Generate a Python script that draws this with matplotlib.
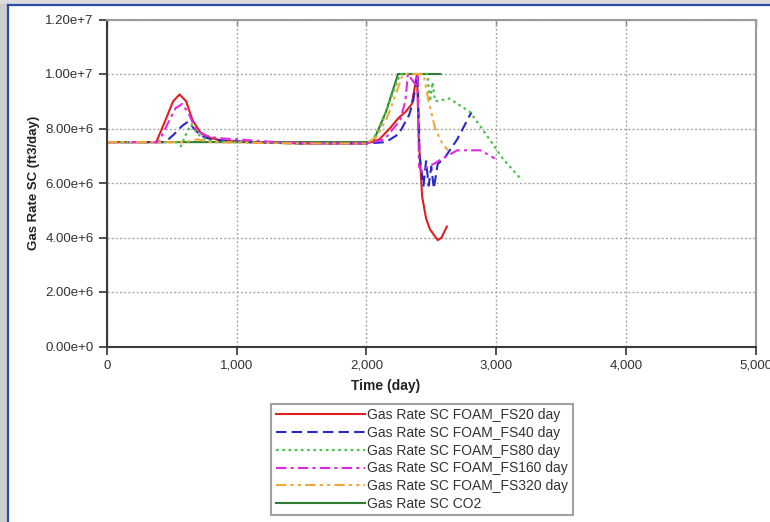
import matplotlib
matplotlib.use("Agg")
import matplotlib.pyplot as plt
from matplotlib.lines import Line2D
from matplotlib.patches import Rectangle
from matplotlib.ticker import FuncFormatter

plt.rcParams['font.family'] = ['Liberation Sans', 'DejaVu Sans']

# Time (day) and gas rate (1e6 ft3/day) for each run
t_fs20 = [0, 380, 450, 510, 560, 610, 660, 720, 800, 900, 1100, 1500, 2000, 2100, 2180,
          2250, 2300, 2350, 2390, 2405, 2430, 2460, 2490, 2520, 2550, 2580, 2620]
q_fs20 = [7.5, 7.5, 8.3, 9.0, 9.25, 9.0, 8.3, 7.85, 7.65, 7.55, 7.5, 7.45, 7.45, 7.6, 8.0,
          8.4, 8.6, 8.9, 10.0, 7.5, 5.5, 4.7, 4.3, 4.1, 3.9, 4.0, 4.4]

t_fs40 = [0, 450, 520, 580, 625, 670, 720, 800, 900, 1100, 1500, 2000, 2150, 2250, 2330,
          2360, 2395, 2410, 2440, 2460, 2480, 2500, 2520, 2550, 2600, 2700, 2810]
q_fs40 = [7.5, 7.5, 7.8, 8.1, 8.25, 8.0, 7.75, 7.6, 7.55, 7.5, 7.45, 7.45, 7.5, 7.8, 8.5,
          9.0, 10.0, 7.0, 5.9, 6.8, 5.9, 6.6, 5.8, 6.7, 6.9, 7.6, 8.6]

t_fs80 = [0, 540, 570, 610, 650, 700, 760, 850, 1100, 1500, 2000, 2050, 2120, 2180, 2260,
          2330, 2400, 2470, 2490, 2510, 2530, 2640, 2800, 2950, 3050, 3200]
q_fs80 = [7.5, 7.5, 7.35, 7.8, 8.15, 7.8, 7.6, 7.5, 7.5, 7.45, 7.45, 7.6, 8.2, 9.0, 10.0,
          10.0, 10.0, 10.0, 9.0, 9.7, 9.0, 9.1, 8.6, 7.6, 6.9, 6.1]

t_fs160 = [0, 400, 470, 530, 580, 630, 680, 750, 850, 1000, 1300, 1600, 2000, 2140, 2260,
           2300, 2320, 2380, 2395, 2405, 2430, 2470, 2520, 2570, 2700, 2880, 2990]
q_fs160 = [7.5, 7.5, 8.2, 8.75, 8.9, 8.55, 8.0, 7.75, 7.65, 7.6, 7.5, 7.45, 7.45, 7.6, 8.3,
           9.0, 10.0, 9.6, 10.0, 6.6, 6.4, 6.6, 6.7, 6.85, 7.2, 7.2, 6.9]

t_fs320 = [0, 600, 700, 800, 1500, 2000, 2080, 2160, 2230, 2280, 2440, 2480, 2530, 2590, 2630]
q_fs320 = [7.5, 7.5, 7.6, 7.5, 7.45, 7.45, 7.7, 8.4, 9.3, 10.0, 10.0, 9.0, 8.0, 7.4, 7.2]

t_co2 = [0, 0, 2050, 2150, 2244, 2570]
q_co2 = [0, 7.5, 7.5, 8.6, 10.0, 10.0]

labels = ["Gas Rate SC FOAM_FS20 day", "Gas Rate SC FOAM_FS40 day",
          "Gas Rate SC FOAM_FS80 day", "Gas Rate SC FOAM_FS160 day",
          "Gas Rate SC FOAM_FS320 day", "Gas Rate SC CO2"]

x_ticks = [0, 1000, 2000, 3000, 4000, 5000]
y_ticks = [0, 2e6, 4e6, 6e6, 8e6, 1e7, 1.2e7]
y_tick_labels = ["0.00e+0", "2.00e+6", "4.00e+6", "6.00e+6", "8.00e+6", "1.00e+7", "1.20e+7"]

W, H = 770, 522
fig = plt.figure(figsize=(W / 100, H / 100), dpi=100)
fig.patch.set_facecolor("white")

# window frame around the chart
fig.add_artist(Rectangle((0, 0), 7 / W, 1, transform=fig.transFigure,
                         facecolor="#cfcfcf", edgecolor="none", zorder=0))
fig.add_artist(Rectangle((0, 1 - 4 / H), 1, 4 / H, transform=fig.transFigure,
                         facecolor="#dcdcdc", edgecolor="none", zorder=0))
fig.add_artist(Line2D([8 / W, 8 / W], [0, 1 - 5 / H], transform=fig.transFigure,
                      color="#2a4aa8", lw=1.6))
fig.add_artist(Line2D([8 / W, 1], [1 - 5 / H, 1 - 5 / H], transform=fig.transFigure,
                      color="#2a4aa8", lw=1.6))

ax = fig.add_axes([107 / W, 1 - 346.5 / H, (755.5 - 107) / W, (346.5 - 19.5) / H])

def m(q):
    return [v * 1e6 for v in q]

series = [
    (t_co2, q_co2, dict(color="#2e7d32", ls="-", lw=1.5)),
    (t_fs20, q_fs20, dict(color="#e02020", ls="-", lw=1.5)),
    (t_fs40, q_fs40, dict(color="#2828c8", ls=(0, (5, 2.5)), lw=1.5)),
    (t_fs80, q_fs80, dict(color="#4cc24c", ls=(0, (1.2, 1.6)), lw=1.6)),
    (t_fs160, q_fs160, dict(color="#e028e0", ls=(0, (5, 2, 1.5, 2)), lw=1.5)),
    (t_fs320, q_fs320, dict(color="#f2a838", ls=(0, (5, 2, 1.5, 2, 1.5, 2)), lw=1.5)),
]
handles = {}
for (t, q, st), lab in zip(series, [labels[5]] + labels[:5]):
    h, = ax.plot(t, m(q), **st, label=lab)
    handles[lab] = h

ax.set_xlim(0, 5000)
ax.set_ylim(0, 1.2e7)
ax.set_xticks(x_ticks)
ax.xaxis.set_major_formatter(FuncFormatter(lambda v, p: f"{int(v):,}"))
ax.set_yticks(y_ticks)
ax.set_yticklabels(y_tick_labels)
ax.grid(True, color="#a8a8a8", ls=(0, (1.5, 1.5)), lw=1.0)
ax.tick_params(axis="both", labelsize=9.5, colors="#333333", length=6, width=1.2,
               direction="out")

# small inward ticks along the top edge
top = ax.secondary_xaxis("top")
top.set_xticks(x_ticks)
top.tick_params(direction="in", length=5, width=1.0, colors="#777777", labeltop=False)
top.spines["top"].set_visible(False)

for s in ["top", "right"]:
    ax.spines[s].set_color("#9a9a9a")
    ax.spines[s].set_linewidth(1.5)
for s in ["left", "bottom"]:
    ax.spines[s].set_color("#3a3a3a")
    ax.spines[s].set_linewidth(1.5)

ax.set_xlabel("Time (day)", fontsize=10, fontweight="bold", color="#222222")
ax.xaxis.set_label_coords(0.429, -0.1)
ax.set_ylabel("Gas Rate SC (ft3/day)", fontsize=9.5, fontweight="bold", color="#222222")
ax.yaxis.set_label_coords(-0.104, 0.5)

leg = fig.legend([handles[l] for l in labels], labels, loc="upper center",
                 bbox_to_anchor=(422 / W, 1 - 404 / H), fontsize=10,
                 handlelength=6.4, handletextpad=0.2, labelspacing=0.27,
                 borderpad=0.3, borderaxespad=0, frameon=True, fancybox=False)
leg.get_frame().set_edgecolor("#8a8a8a")
leg.get_frame().set_linewidth(1.5)
for txt in leg.get_texts():
    txt.set_color("#333333")

fig.savefig("out.png", dpi=100)
